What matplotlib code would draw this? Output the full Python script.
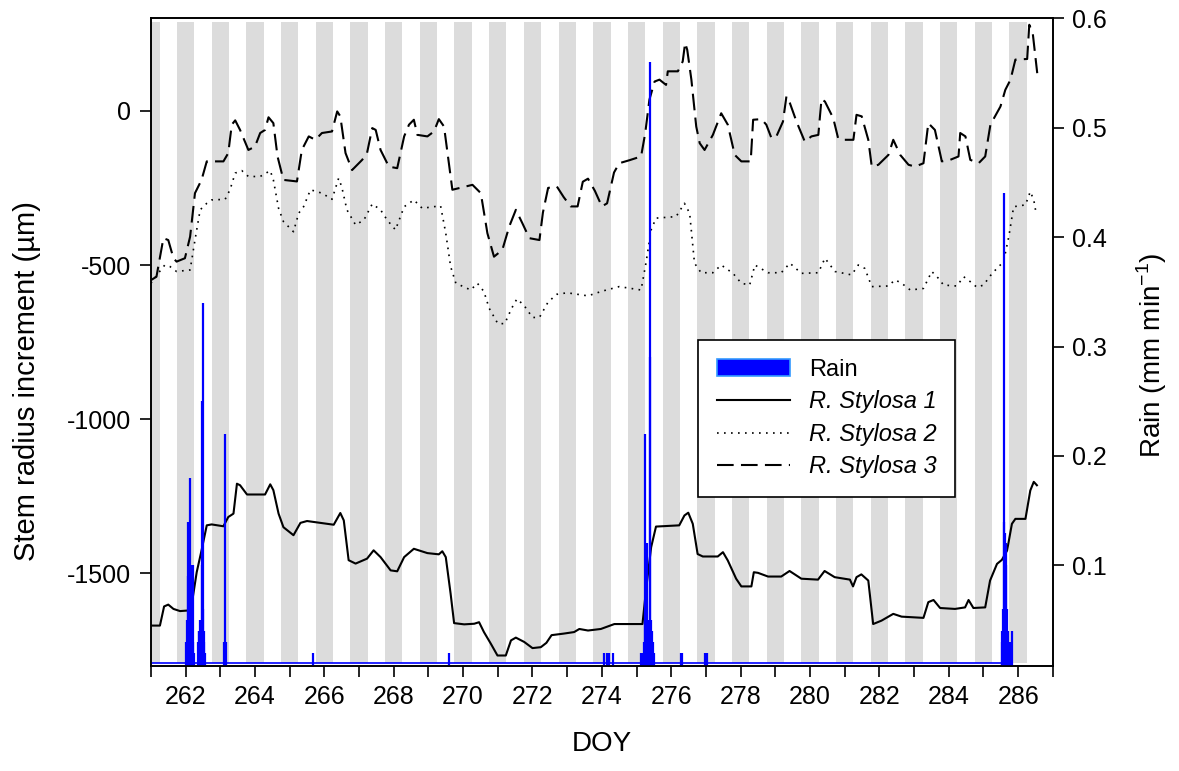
import numpy as np
import matplotlib.pyplot as plt
from matplotlib.patches import Patch
from matplotlib.lines import Line2D
from matplotlib.ticker import MultipleLocator, FuncFormatter

plt.rcParams['font.family'] = ['Liberation Sans', 'DejaVu Sans']
plt.rcParams['mathtext.fontset'] = 'custom'
plt.rcParams['mathtext.rm'] = 'Liberation Sans'
plt.rcParams['axes.unicode_minus'] = False

# R. Stylosa 1 (сплошная)
s1_doy = [261.0, 261.26, 261.38, 261.5, 261.65, 261.84, 262.08, 262.18, 262.32, 262.46, 262.61,
          262.75, 263.09, 263.23, 263.38, 263.48, 263.57, 263.77, 264.29, 264.44, 264.53, 264.68,
          264.82, 265.11, 265.31, 265.5, 266.27, 266.46, 266.56, 266.7, 266.9, 267.23, 267.42,
          267.62, 267.91, 268.1, 268.3, 268.58, 268.97, 269.3, 269.4, 269.5, 269.64, 269.74,
          270.03, 270.32, 270.46, 270.6, 270.8, 270.99, 271.23, 271.38, 271.52, 271.76, 272.0,
          272.24, 272.4, 272.55, 272.9, 273.2, 273.35, 273.6, 273.97, 274.36, 275.17, 275.27,
          275.42, 275.56, 276.23, 276.38, 276.49, 276.62, 276.76, 276.91, 277.34, 277.49, 277.63,
          277.87, 278.02, 278.31, 278.38, 278.5, 278.79, 279.17, 279.41, 279.75, 280.23, 280.42,
          280.71, 281.15, 281.24, 281.34, 281.48, 281.68, 281.82, 282.06, 282.4, 282.64, 283.27,
          283.41, 283.56, 283.75, 284.18, 284.47, 284.57, 284.71, 285.05, 285.19, 285.39, 285.53,
          285.68, 285.82, 285.92, 286.21, 286.35, 286.45, 286.54]
s1_um = [-1669, -1669, -1607, -1601, -1615, -1622, -1620, -1598, -1496, -1425, -1344,
         -1341, -1347, -1317, -1306, -1209, -1214, -1244, -1244, -1211, -1230, -1306,
         -1350, -1376, -1336, -1330, -1342, -1304, -1328, -1457, -1468, -1452, -1425,
         -1447, -1490, -1493, -1447, -1420, -1434, -1438, -1428, -1447, -1566, -1661,
         -1665, -1663, -1658, -1690, -1728, -1766, -1766, -1717, -1708, -1722, -1742,
         -1739, -1725, -1700, -1695, -1690, -1680, -1685, -1680, -1664, -1664, -1556,
         -1415, -1348, -1344, -1312, -1303, -1339, -1437, -1445, -1445, -1431, -1458,
         -1517, -1542, -1542, -1496, -1498, -1510, -1510, -1492, -1517, -1520, -1492,
         -1512, -1520, -1542, -1512, -1503, -1523, -1664, -1653, -1631, -1640, -1644,
         -1593, -1586, -1612, -1615, -1610, -1586, -1612, -1610, -1523, -1469, -1456,
         -1426, -1339, -1323, -1323, -1231, -1203, -1214]

# R. Stylosa 2 (точки)
s2_doy = [261.0, 261.21, 261.4, 261.55, 261.74, 262.13, 262.27, 262.42, 262.61, 262.75, 263.14,
          263.28, 263.43, 263.62, 263.81, 264.15, 264.44, 264.53, 264.68, 264.82, 265.11, 265.26,
          265.4, 265.6, 265.93, 266.22, 266.41, 266.5, 266.65, 266.9, 267.14, 267.38, 267.62,
          267.81, 268.05, 268.3, 268.58, 268.82, 269.35, 269.5, 269.64, 269.79, 270.22, 270.41,
          270.6, 270.75, 271.0, 271.2, 271.4, 271.55, 271.75, 272.0, 272.2, 272.45, 272.7,
          273.0, 273.3, 273.6, 274.0, 274.5, 275.13, 275.27, 275.42, 275.56, 276.14, 276.38,
          276.53, 276.67, 276.86, 277.2, 277.44, 277.78, 278.02, 278.26, 278.41, 278.79, 279.17,
          279.42, 279.75, 280.24, 280.43, 280.72, 281.2, 281.39, 281.58, 281.78, 282.26, 282.45,
          282.64, 282.89, 283.27, 283.51, 283.7, 283.85, 284.23, 284.43, 284.62, 284.81, 285.0,
          285.25, 285.58, 285.73, 285.87, 286.21, 286.35, 286.45, 286.5]
s2_um = [-559, -527, -500, -505, -521, -516, -419, -321, -300, -289, -287,
         -256, -202, -194, -213, -213, -194, -224, -316, -359, -392, -332,
         -311, -256, -267, -287, -219, -246, -321, -370, -354, -302, -321,
         -354, -386, -311, -289, -316, -308, -397, -505, -559, -581, -559,
         -586, -640, -690, -690, -640, -610, -630, -670, -670, -620, -595,
         -590, -595, -600, -585, -570, -581, -494, -386, -348, -343, -300,
         -332, -494, -525, -525, -500, -527, -559, -565, -500, -525, -525,
         -494, -527, -525, -478, -521, -532, -500, -511, -570, -568, -548,
         -559, -581, -576, -521, -543, -565, -568, -538, -554, -572, -565,
         -527, -489, -408, -311, -305, -262, -289, -321]

# R. Stylosa 3 (штрихи)
s3_doy = [261.0, 261.16, 261.36, 261.5, 261.65, 261.74, 261.98, 262.13, 262.27, 262.46, 262.61,
          263.09, 263.23, 263.33, 263.43, 263.57, 263.81, 264.0, 264.15, 264.29, 264.39, 264.53,
          264.65, 264.82, 265.21, 265.35, 265.55, 265.74, 265.93, 266.22, 266.37, 266.46, 266.61,
          266.8, 267.09, 267.23, 267.38, 267.48, 267.62, 267.86, 268.1, 268.3, 268.44, 268.58,
          268.68, 268.97, 269.16, 269.3, 269.45, 269.69, 270.27, 270.51, 270.7, 270.89, 271.13,
          271.33, 271.52, 271.71, 271.91, 272.2, 272.3, 272.45, 272.7, 272.9, 273.1, 273.3,
          273.45, 273.6, 273.8, 274.0, 274.15, 274.35, 274.5, 274.8, 275.13, 275.25, 275.37,
          275.52, 275.66, 275.85, 275.9, 276.19, 276.33, 276.4, 276.46, 276.58, 276.72, 276.82,
          276.96, 277.2, 277.44, 277.63, 277.83, 278.02, 278.29, 278.36, 278.6, 278.74, 278.89,
          279.03, 279.22, 279.32, 279.42, 279.61, 279.85, 280.04, 280.24, 280.33, 280.43, 280.67,
          280.81, 281.0, 281.25, 281.34, 281.49, 281.68, 281.78, 281.97, 282.26, 282.4, 282.6,
          282.84, 283.03, 283.27, 283.41, 283.6, 283.8, 284.04, 284.28, 284.33, 284.48, 284.62,
          284.86, 285.05, 285.2, 285.49, 285.63, 285.78, 285.92, 286.26, 286.32, 286.42, 286.55]
s3_um = [-549, -538, -413, -419, -478, -489, -478, -408, -267, -224, -164,
         -164, -137, -45, -31, -62, -127, -116, -72, -62, -21, -40,
         -148, -224, -229, -127, -83, -94, -72, -67, -2, -18, -137,
         -192, -159, -137, -56, -62, -127, -181, -186, -83, -45, -29,
         -78, -83, -67, -27, -51, -256, -240, -267, -397, -473, -451,
         -375, -321, -365, -413, -419, -330, -250, -245, -280, -310, -310,
         -230, -220, -260, -310, -300, -200, -170, -160, -148, -72, 36,
         95, 101, 84, 128, 128, 160, 220, 198, 101, -51, -105,
         -127, -78, -8, -45, -143, -164, -164, -29, -27, -45, -89,
         -83, -35, 47, 25, -35, -100, -83, -78, 38, 30, -24,
         -89, -94, -94, -13, -18, -94, -181, -175, -143, -94, -143,
         -175, -181, -170, -40, -62, -164, -159, -148, -72, -83, -159,
         -170, -148, -45, 14, 68, 101, 166, 168, 279, 252, 122]

# дождь, мм/мин
rain_doy = [262.02, 262.04, 262.06, 262.08, 262.10, 262.12, 262.14, 262.15, 262.17, 262.19, 262.20,
            262.22, 262.24, 262.36, 262.38, 262.40, 262.42, 262.44, 262.46, 262.48, 262.49, 262.50,
            262.52, 262.54, 262.56, 263.12, 263.14, 263.16, 265.67, 269.59, 274.05, 274.16,
            274.21, 274.31, 275.14, 275.17, 275.2, 275.23, 275.25, 275.27, 275.29, 275.31,
            275.33, 275.35, 275.37, 275.39, 275.40, 275.42, 275.44, 275.46, 275.49, 276.29, 276.31,
            276.96, 277.03, 285.52, 285.54, 285.56, 285.58, 285.60, 285.62, 285.64, 285.66,
            285.68, 285.70, 285.73, 285.76, 285.79, 285.82]
rain_mm = [0.03, 0.05, 0.14, 0.09, 0.04, 0.06, 0.18, 0.10, 0.05, 0.04, 0.10,
           0.03, 0.02, 0.03, 0.04, 0.04, 0.05, 0.04, 0.25, 0.10, 0.34, 0.06,
           0.04, 0.03, 0.02, 0.03, 0.22, 0.03, 0.02, 0.02, 0.02, 0.02,
           0.02, 0.02, 0.02, 0.02, 0.03, 0.05, 0.22, 0.06, 0.12, 0.05,
           0.04, 0.04, 0.05, 0.29, 0.56, 0.05, 0.04, 0.03, 0.02, 0.02, 0.02,
           0.02, 0.02, 0.03, 0.04, 0.06, 0.44, 0.14, 0.13, 0.12, 0.10,
           0.06, 0.04, 0.03, 0.03, 0.02, 0.04]
rain_start, rain_end = 261.0, 285.85

night_days = np.arange(261, 287)

fig = plt.figure(figsize=(11.79, 7.71), dpi=100)
ax = fig.add_axes([0.128, 0.1362, 0.765, 0.8401])
ax2 = ax.twinx()

# ночные полосы
for d in night_days:
    ax.axvspan(d - 0.25, d + 0.25, ymin=0.004, ymax=0.995, color='#dcdcdc', lw=0, zorder=0)

ax.plot(s1_doy, s1_um, color='black', lw=1.5, zorder=3)
ax.plot(s2_doy, s2_um, color='black', lw=1.2, dashes=(1, 3.2), zorder=3)
ax.plot(s3_doy, s3_um, color='black', lw=1.5, dashes=(8, 3.5), zorder=3)

ax2.vlines(rain_doy, 0, rain_mm, color='#0000ff', lw=1.6, zorder=2)
ax2.hlines(0.004, rain_start, rain_end, color='#0000ff', lw=1.2,
           transform=ax2.get_xaxis_transform())

ax.set_xlim(261, 287)
ax.set_ylim(-1800, 300)
ax2.set_ylim(0.008, 0.6)

ax.xaxis.set_major_locator(MultipleLocator(2))
ax.xaxis.set_minor_locator(MultipleLocator(1))
ax.xaxis.set_major_formatter(FuncFormatter(lambda v, p: '%d' % v if v >= 262 else ''))
ax.set_yticks([0, -500, -1000, -1500])
ax2.set_yticks([0.1, 0.2, 0.3, 0.4, 0.5, 0.6])

for a in (ax, ax2):
    a.tick_params(which='both', direction='out', length=8, width=1.2, labelsize=18, pad=6)
    for sp in a.spines.values():
        sp.set_linewidth(1.2)

ax.set_xlabel('DOY', fontsize=20)
ax.xaxis.set_label_coords(0.5, -0.1)
ax.set_ylabel('Stem radius increment (µm)', fontsize=21)
ax.yaxis.set_label_coords(-0.122, 0.44)
ax2.set_ylabel('Rain (mm min$^{-1}$)', fontsize=20)
ax2.yaxis.set_label_coords(1.09, 0.48)

handles = [Patch(facecolor='#0000ff', edgecolor='#3399ff', lw=1.2),
           Line2D([], [], color='black', lw=1.5),
           Line2D([], [], color='black', lw=1.2, dashes=(1, 3.2)),
           Line2D([], [], color='black', lw=1.5, dashes=(8, 3.5))]
labels = ['Rain', 'R. Stylosa 1', 'R. Stylosa 2', 'R. Stylosa 3']
leg = ax2.legend(handles, labels, loc='upper left', bbox_to_anchor=(698 / 1179, 1 - 340 / 771),
                 bbox_transform=fig.transFigure, borderaxespad=0, fontsize=17, frameon=True,
                 fancybox=False, framealpha=1, edgecolor='black', handlelength=3.1,
                 handletextpad=0.8, labelspacing=0.4, borderpad=0.8)
leg.get_frame().set_linewidth(1.2)
for t in leg.get_texts()[1:]:
    t.set_fontstyle('italic')

fig.savefig('out.png', dpi=100)
